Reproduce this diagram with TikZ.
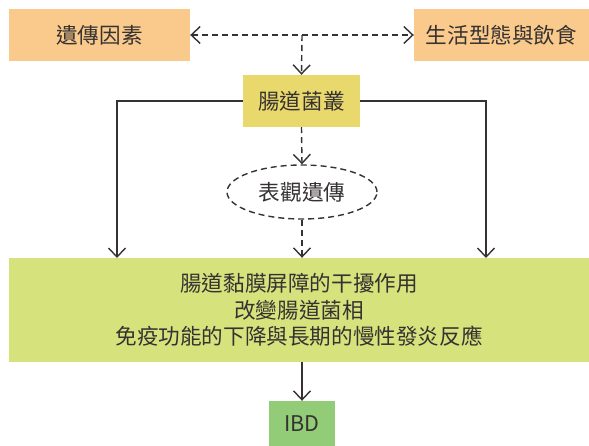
\documentclass[tikz,border=0pt]{standalone}
\usepackage{fontspec}
\setmainfont{Noto Sans CJK TC}
\usetikzlibrary{arrows.meta,shapes.geometric}

\definecolor{causeorange}{HTML}{F9CA8B}
\definecolor{gutyellow}{HTML}{E9D96C}
\definecolor{effectgreen}{HTML}{D6E27C}
\definecolor{ibdgreen}{HTML}{93CC77}
\definecolor{inkgray}{HTML}{363232}

\tikzset{
  box/.style={inner sep=0pt,text=inkgray,font=\fontsize{21.6}{26.5}\selectfont,align=center},
  cause/.style={box,fill=causeorange,minimum height=52pt},
  link/.style={draw=inkgray,line width=1.4pt,-{Straight Barb[length=9pt,width=17pt,line width=1.4pt]}},
  dlink/.style={link,dash pattern=on 6pt off 4pt},
}

\begin{document}
\begin{tikzpicture}[x=1pt,y=-1pt]
    \useasboundingbox (0,0) rectangle (589,445);

    \node[cause,minimum width=181pt] (genes) at (99.5,35) {遺傳因素};
    \node[cause,minimum width=175pt] (life) at (501.5,35) {生活型態與飲食};
    \node[box,fill=gutyellow,minimum width=117pt,minimum height=52pt] (gut) at (301.5,101) {腸道菌叢};
    \node[box,ellipse,draw=inkgray,line width=1.4pt,dash pattern=on 6pt off 4pt,minimum width=150pt,minimum height=54pt] (epi) at (302,192) {表觀遺傳};
    \node[box,fill=effectgreen,minimum width=580pt,minimum height=104pt] (barrier) at (299,310) {腸道黏膜屏障的干擾作用\\改變腸道菌相\\免疫功能的下降與長期的慢性發炎反應};
    \node[box,fill=ibdgreen,minimum width=66pt,minimum height=46pt] (ibd) at (302,424) {IBD};

    % factors
    \coordinate (fork) at (302,35);
    \draw[dlink,{Straight Barb[length=9pt,width=17pt,line width=1.4pt]}-{Straight Barb[length=9pt,width=17pt,line width=1.4pt]}] (genes.east) -- (life.west);
    \draw[dlink] (fork) -- (gut.north);

    % gut flora
    \coordinate (ldrop) at (117,258);
    \coordinate (rdrop) at (486,258);
    \draw[link] (gut.west) -| (ldrop);
    \draw[link] (gut.east) -| (rdrop);
    \draw[dlink] (gut.south) -- (epi.north);
    \draw[dlink] (epi.south) -- (epi.south |- barrier.north);

    \draw[link] (barrier.south -| ibd.north) -- (ibd.north);
\end{tikzpicture}
\end{document}
